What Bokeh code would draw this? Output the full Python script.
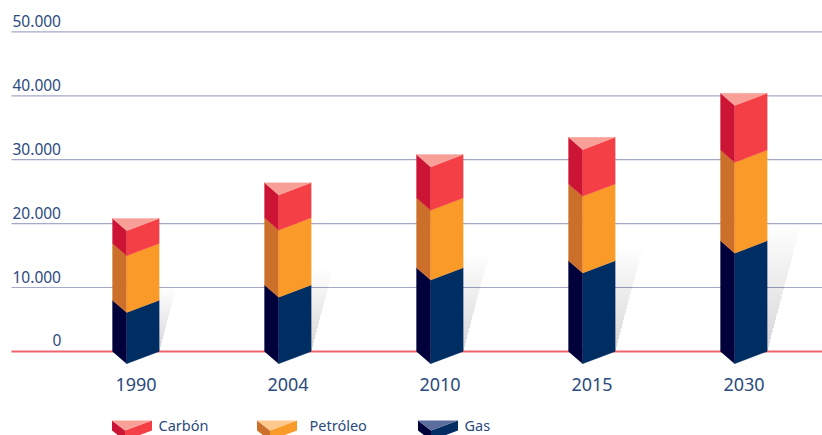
from bokeh.plotting import figure
from bokeh.embed import file_html
from bokeh.resources import INLINE
from bokeh.core.properties import value

years = ["1990", "2004", "2010", "2015", "2030"]
gas_top = [8000, 10400, 13100, 14200, 17300]
oil_top = [16900, 20900, 24000, 26200, 31500]
coal_top = [20800, 26400, 30800, 33500, 40400]
shadow_top = [9900, 12900, 15200, 16300, 19900]
y_ticks = [0, 10000, 20000, 30000, 40000, 50000]
y_labels = ["0", "10.000", "20.000", "30.000", "40.000", "50.000"]
legend_names = ["Carbón", "Petróleo", "Gas"]
FONT = "Noto Sans"
TXT = "#2b4a7d"

PX_X = 152.0            # pixels per category
PX_Y = 6.39 / 1000.0    # pixels per value unit
X0, Y0 = 135.5, 350.9   # page pixel of category 0 / value 0
W, H = 822, 435

def dx(px):
    return px / PX_X
def dy(px):
    return px / PX_Y

p = figure(width=W, height=H, output_backend="svg", toolbar_location=None,
           x_range=((0 - X0) / PX_X, (W - X0) / PX_X),
           y_range=((Y0 - H) / PX_Y, Y0 / PX_Y),
           min_border=0, outline_line_color=None, background_fill_color="white",
           styles={"position": "absolute", "left": "0px", "top": "0px"})
p.axis.visible = False
p.grid.visible = False

xl, xv, xr = dx(-23.5), dx(-9.3), dx(23.2)
depth = dy(12.3)
xs = list(range(len(years)))
x_left = (11 - X0) / PX_X
x_right = (W - X0) / PX_X

# grid
grid_vals = [t for t in y_ticks if t != 0]
p.segment([x_left] * len(grid_vals), grid_vals, [x_right] * len(grid_vals), grid_vals,
          line_color="#a6a9c6", line_width=1.2)
p.segment([x_left], [0], [x_right], [0], line_color="#f1646f", line_width=2)

# shadows: overlapping layers build the vertical fade
N = 40
for i, top in zip(xs, shadow_top):
    width = dx(0.265 * top * PX_Y)
    for k in range(1, N + 1):
        f = k / N
        p.patch([i + xr, i + xr, i + xr + width * f], [0, top * f, top * f],
                fill_color="#70767e", fill_alpha=0.0085, line_color=None)

# bars
def face(xa, xb, ya0, yb0, ya1, yb1, color):
    p.patch([xa, xb, xb, xa], [ya0, yb0, yb1, ya1], fill_color=color, line_color=color, line_width=0.3)

for i, g, o, c in zip(xs, gas_top, oil_top, coal_top):
    L, V, R = i + xl, i + xv, i + xr
    layers = [(0, g, "#00003a", "#002d62"), (g, o, "#cc6f2a", "#fa9a28"), (o, c, "#cc1434", "#f53f46")]
    for lo, hi, side, front in layers:
        face(L, V, lo, lo - depth, hi, hi - depth, side)
        face(V, R, lo - depth, lo, hi - depth, hi, front)
    p.patch([L, R, V], [c, c, c - depth], fill_color="#f8a097", line_color="#f8a097", line_width=0.3)

# tick labels
p.text([(12 - X0) / PX_X] * 5 + [(52 - X0) / PX_X], y_ticks[1:] + [0],
       text=y_labels[1:] + ["0"], text_font=value(FONT), text_font_size="15.5px",
       text_color=TXT, y_offset=-11, text_baseline="alphabetic", text_align="left")
p.text(xs, [0] * 5, text=years, text_font=value(FONT), text_font_size="18px",
       text_color=TXT, text_align="center", text_baseline="alphabetic", y_offset=33)

# legend swatches and labels
leg_x = [111.5, 256.5, 417.5]
leg_txt = [158, 309, 464]
leg_cols = [("#f8a097", "#cc1434", "#f53f46"), ("#fec88d", "#cc6f2a", "#fa9a28"), ("#5a6d9c", "#00003a", "#002d62")]
ly = (Y0 - 420) / PX_Y
for lx, tx, name, (top, side, front) in zip(leg_x, leg_txt, legend_names, leg_cols):
    a, b, c = (lx - X0) / PX_X, (lx + 13 - X0) / PX_X, (lx + 40 - X0) / PX_X
    d, h = dy(10), dy(10)
    p.patch([a, b, b, a], [ly, ly - d, ly - d - h, ly - h], fill_color=side, line_color=None)
    p.patch([b, c, c, b], [ly - d, ly, ly - h, ly - d - h], fill_color=front, line_color=None)
    p.patch([a, c, b], [ly, ly, ly - d], fill_color=top, line_color=None)
    p.text([(tx - X0) / PX_X], [(Y0 - 424.5) / PX_Y], text=[name], text_font=value(FONT),
           text_font_size="14.5px", text_color=TXT, text_baseline="middle")

open("out.html", "w").write(file_html(p, INLINE))
